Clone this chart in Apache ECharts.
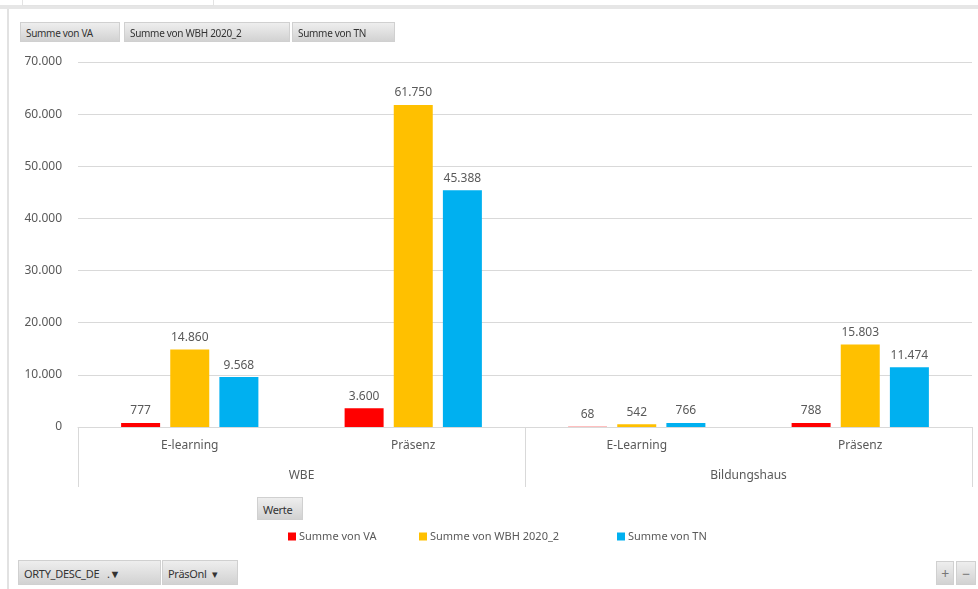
<!DOCTYPE html>
<html>
<head>
<meta charset="utf-8">
<script src="https://cdn.jsdelivr.net/npm/echarts@6/dist/echarts.min.js"></script>
<style>
  html, body { margin: 0; padding: 0; background: #fff; }
  #wrap { position: relative; width: 978px; height: 589px; overflow: hidden; font-family: 'Noto Sans', sans-serif; }
  #chart { position: absolute; left: 0; top: 0; width: 978px; height: 589px; }
  .btn {
    position: absolute; height: 20px; line-height: 20px; font-size: 10px; color: #333;
    background: linear-gradient(#eeeeee, #d2d2d2); border: 1px solid #d0d0d0; box-sizing: border-box;
    padding: 0 5px; white-space: nowrap; letter-spacing: -0.3px;
  }
  .topband { position: absolute; left: 0; top: 5px; width: 978px; height: 4px; background: #e6e6e6; }
  .topbox { position: absolute; left: 22px; top: 0; width: 190px; height: 5px; border: 1px solid #e3e3e3; border-top: none; background: #fff; }
  .leftline { position: absolute; left: 7px; top: 9px; width: 2px; height: 580px; background: #e2e2e2; }
</style>
</head>
<body>
<div id="wrap">
  <div id="chart"></div>
  <div class="topband"></div>
  <div class="topbox"></div>
  <div class="leftline"></div>
  <div class="btn" style="left:20px;top:22px;width:100px;">Summe von VA</div>
  <div class="btn" style="left:124px;top:22px;width:166px;">Summe von WBH 2020_2</div>
  <div class="btn" style="left:292px;top:22px;width:103px;">Summe von TN</div>
  <div class="btn" style="left:257px;top:497px;width:46px;height:23px;line-height:23px;font-size:11px;">Werte</div>
  <div class="btn" style="left:18px;top:560px;width:143px;height:25px;line-height:25px;font-size:11px;">ORTY_DESC_DE &nbsp;&nbsp;.&#9660;</div>
  <div class="btn" style="left:162px;top:560px;width:76px;height:25px;line-height:25px;font-size:11px;">PräsOnl &nbsp;&#9662;</div>
  <div class="btn" style="left:936px;top:561px;width:18px;height:24px;line-height:24px;text-align:center;padding:0;font-size:14px;color:#777;">+</div>
  <div class="btn" style="left:956px;top:561px;width:20px;height:24px;line-height:24px;text-align:center;padding:0;font-size:14px;color:#777;">&minus;</div>
</div>
<script>
// Kategorien (zwei Ebenen)
const categories = ['E-learning', 'Präsenz', 'E-Learning', 'Präsenz']
const groups = ['WBE', 'Bildungshaus']

// Werte je Serie
const seriesNames = ['Summe von VA', 'Summe von WBH 2020_2', 'Summe von TN']
const valuesVA = [777, 3600, 68, 788]
const valuesWBH = [14860, 61750, 542, 15803]
const valuesTN = [9568, 45388, 766, 11474]
const colors = ['#FF0000', '#FFC000', '#00B0F0']

const yTicks = { min: 0, max: 70000, interval: 10000 }

function fmtDE(v) {
  return String(v).replace(/\B(?=(\d{3})+(?!\d))/g, '.')
}

const chart = echarts.init(document.getElementById('chart'))

const allValues = [valuesVA, valuesWBH, valuesTN]
const series = allValues.map(function(vals, i) {
  return {
    name: seriesNames[i],
    type: 'bar',
    xAxisIndex: 0,
    data: vals,
    barWidth: 39,
    barGap: '26%',
    itemStyle: { color: colors[i] },
    label: {
      show: true,
      position: 'top',
      distance: 6,
      color: '#595959',
      fontSize: 12,
      fontFamily: 'Noto Sans',
      formatter: function(p) { return fmtDE(p.value) }
    }
  }
})

const legendPos = [283, 414, 612]

chart.setOption({
  animation: false,
  textStyle: { fontFamily: 'Noto Sans' },
  grid: { left: 78, right: 6, top: 62, bottom: 162 },
  legend: seriesNames.map(function(n, i) {
    return {
      data: [n],
      left: legendPos[i],
      top: 526,
      icon: 'rect',
      itemWidth: 8,
      itemHeight: 8,
      itemGap: 4,
      textStyle: { color: '#595959', fontSize: 11, padding: [0, 0, 0, -2] }
    }
  }),
  xAxis: [
    {
      type: 'category',
      data: categories,
      axisLine: { lineStyle: { color: '#d9d9d9', width: 1 } },
      axisTick: { show: false },
      axisLabel: { color: '#595959', fontSize: 12, margin: 13 }
    },
    {
      type: 'category',
      data: groups,
      position: 'bottom',
      axisLine: { show: false },
      axisTick: { show: true, length: 60, lineStyle: { color: '#d9d9d9' } },
      axisLabel: { color: '#595959', fontSize: 12, margin: 43 }
    }
  ],
  yAxis: {
    type: 'value',
    min: yTicks.min,
    max: yTicks.max,
    interval: yTicks.interval,
    axisLine: { show: false },
    axisTick: { show: false },
    splitLine: { lineStyle: { color: '#d9d9d9' } },
    axisLabel: {
      color: '#595959',
      fontSize: 12,
      margin: 16,
      formatter: function(v) { return fmtDE(v) }
    }
  },
  series: series
})
</script>
</body>
</html>
